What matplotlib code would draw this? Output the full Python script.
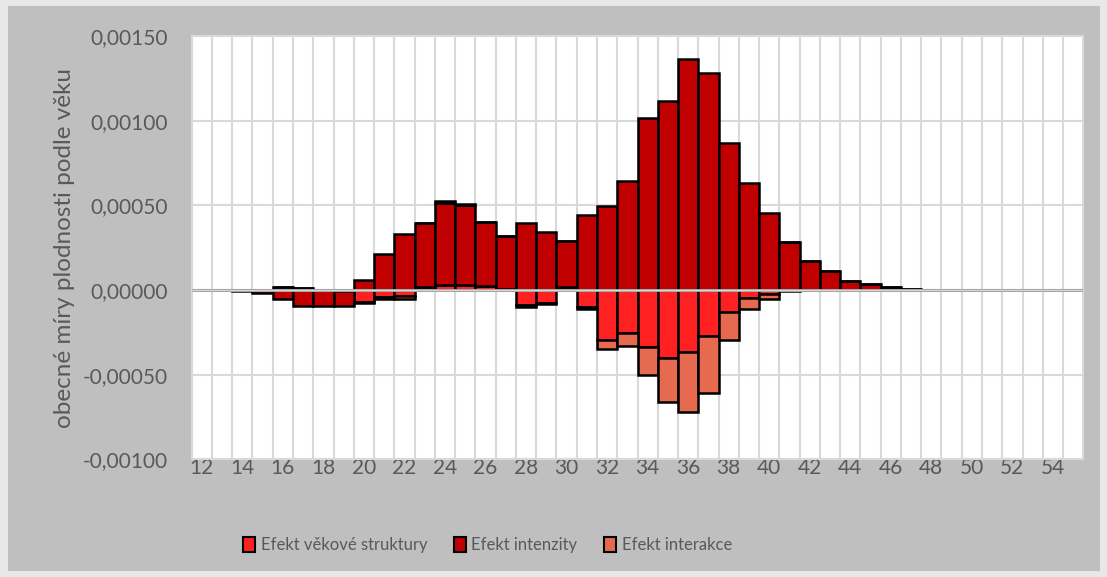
import matplotlib
matplotlib.use("Agg")
import matplotlib.pyplot as plt
from matplotlib.patches import Rectangle, Patch
from matplotlib.ticker import FuncFormatter, MultipleLocator
import numpy as np

# Age categories
ages = list(range(12, 56))

# Decomposition of the change in the crude birth rate by age (per age group)
efekt_struktury = [
    0.0, 0.0, 0.0, 0.0, 0.000018, 0.000013, 0.0, -0.000008, -0.000070, -0.000040,
    -0.000035, 0.000015, 0.000030, 0.000030, 0.000025, 0.000005, -0.000088, -0.000075, 0.000020, -0.000100,
    -0.000294, -0.000256, -0.000335, -0.000402, -0.000365, -0.000270, -0.000129, -0.000049, -0.000021, -0.000005,
    0.0, 0.0, 0.0, 0.0, 0.0, 0.0, 0.0, 0.0, 0.0, 0.0,
    0.0, 0.0, 0.0, 0.0,
]
efekt_intenzity = [
    0.0, -0.000002, -0.000005, -0.000020, -0.000052, -0.000095, -0.000095, -0.000085, 0.000057, 0.000213,
    0.000330, 0.000380, 0.000485, 0.000470, 0.000375, 0.000315, 0.000396, 0.000343, 0.000268, 0.000441,
    0.000494, 0.000645, 0.001014, 0.001118, 0.001367, 0.001279, 0.000867, 0.000632, 0.000455, 0.000282,
    0.000171, 0.000112, 0.000053, 0.000033, 0.000020, 0.000003, 0.000001, 0.000001, 0.000002, 0.000001,
    -0.000001, 0.000001, -0.000001, 0.000001,
]
efekt_interakce = [
    0.0, 0.0, 0.0, 0.0, 0.0, 0.0, 0.0, 0.0, -0.000005, -0.000012,
    -0.000020, 0.0, 0.000010, 0.000008, 0.0, 0.0, -0.000015, -0.000010, 0.0, -0.000012,
    -0.000055, -0.000073, -0.000165, -0.000257, -0.000353, -0.000337, -0.000167, -0.000065, -0.000030, 0.0,
    0.0, 0.0, 0.0, 0.0, 0.0, 0.0, 0.0, 0.0, 0.0, 0.0,
    0.0, 0.0, 0.0, 0.0,
]

series_names = ["Efekt věkové struktury", "Efekt intenzity", "Efekt interakce"]
series_colors = ["#FF2121", "#C00000", "#E66A50"]
xtick_labels = [str(a) for a in range(12, 55, 2)]

text_color = "#595959"
font_family = ["Lato", "DejaVu Sans"]
plt.rcParams["font.family"] = font_family

fig = plt.figure(figsize=(11.07, 5.77), dpi=100)
fig.patch.set_facecolor("#E8E8E8")
fig.patches.append(Rectangle((8 / 1107, 6 / 577), 1092 / 1107, 565 / 577,
                             transform=fig.transFigure, facecolor="#BFBFBF",
                             edgecolor="none", zorder=-10))

ax = fig.add_axes([191.7 / 1107, 1 - 459.3 / 577, 891.6 / 1107, 423.3 / 577])
ax.set_facecolor("white")

x = np.array(ages, dtype=float)
pos_bottom = np.zeros(len(ages))
neg_bottom = np.zeros(len(ages))
for vals, color, name in zip([efekt_struktury, efekt_intenzity, efekt_interakce],
                             series_colors, series_names):
    v = np.array(vals)
    bottoms = np.where(v >= 0, pos_bottom, neg_bottom)
    ax.bar(x, v, width=1.0, bottom=bottoms, color=color, edgecolor="black",
           linewidth=1.8, zorder=3, label=name)
    pos_bottom = pos_bottom + np.where(v >= 0, v, 0)
    neg_bottom = neg_bottom + np.where(v < 0, v, 0)

ax.set_xlim(11.5, 55.5)
ax.set_ylim(-0.001, 0.0015)

# Gridlines: horizontal at value ticks, vertical between categories
for yv in np.arange(-0.001, 0.00151, 0.0005):
    ax.axhline(yv, color="#D9D9D9", lw=1.5, zorder=1)
for xb in np.arange(12.5, 55.5, 1.0):
    ax.axvline(xb, color="#D9D9D9", lw=1.5, zorder=1)
ax.axhline(0, color="#A6A6A6", lw=2.2, zorder=4)
ax.axhline(0, color="#E0E0E0", lw=0.6, zorder=4)

ax.yaxis.set_major_locator(MultipleLocator(0.0005))
ax.yaxis.set_major_formatter(FuncFormatter(lambda v, p: f"{v:.5f}".replace(".", ",").replace("-0,00000", "0,00000")))
ax.set_xticks(list(range(12, 55, 2)))
ax.set_xticklabels(xtick_labels)
ax.tick_params(axis="both", length=0, colors=text_color, labelsize=15)
ax.tick_params(axis="y", pad=17)
ax.tick_params(axis="x", pad=-1)
for s in ax.spines.values():
    s.set_color("#D9D9D9")
    s.set_linewidth(1.5)

ax.set_ylabel("obecné míry plodnosti podle věku", color=text_color, fontsize=17.5, labelpad=6)

handles = [Patch(facecolor=c, edgecolor="black", linewidth=1.5) for c in series_colors]
fig.legend(handles, series_names, loc="center", bbox_to_anchor=(0.4404, 1 - 545 / 577),
           ncol=3, frameon=False, fontsize=12, labelcolor=text_color,
           handlelength=0.7, handleheight=1.0, handletextpad=0.35, columnspacing=1.6)

fig.savefig("out.png", dpi=100, facecolor=fig.get_facecolor())
